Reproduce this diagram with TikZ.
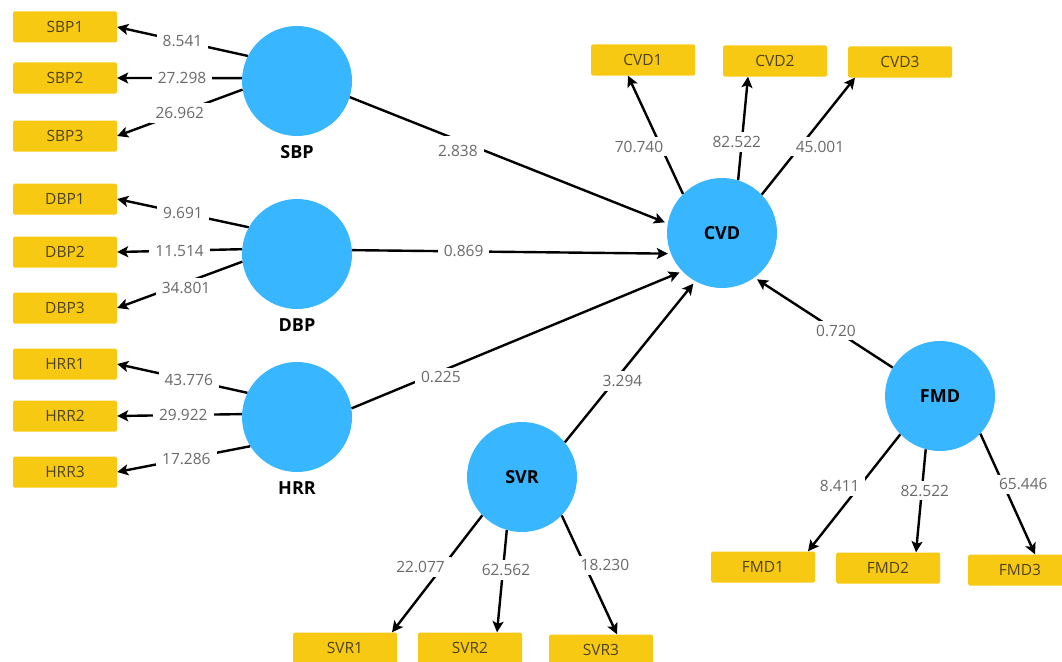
\documentclass[tikz,border=0pt]{standalone}
\usepackage{fontspec}
\setmainfont{Open Sans}
\usetikzlibrary{arrows.meta}
\definecolor{boxyellow}{HTML}{F8C912}
\definecolor{boxtext}{HTML}{4E4320}
\definecolor{circblue}{HTML}{38B6FF}
\definecolor{lblgray}{HTML}{6A6A6A}
\tikzset{
  ind/.style={rectangle, fill=boxyellow, minimum width=104pt, minimum height=31pt, rounded corners=1.5pt, inner sep=0pt, text=boxtext, font=\fontsize{15.5}{16}\selectfont},
  lat/.style={circle, fill=circblue, minimum size=110pt, inner sep=0pt, font=\fontsize{18}{20}\selectfont\bfseries, text=black},
  lbold/.style={font=\fontsize{18}{20}\selectfont\bfseries, text=black},
  lbl/.style={fill=white, text=lblgray, font=\fontsize{15.5}{16}\selectfont, inner xsep=6pt, inner ysep=4pt},
  arr/.style={draw=black, line width=2.4pt, -{Stealth[length=11pt,width=11pt,inset=2.5pt]}},
  arrin/.style={arr, shorten >=3pt}
}
\begin{document}
\begin{tikzpicture}[x=1pt,y=-1pt]
\useasboundingbox (0,0) rectangle (1062,661);
% indicator boxes
\node[ind] (sbp1) at (65,27) {SBP1};
\node[ind] (sbp2) at (65,78) {SBP2};
\node[ind] (sbp3) at (65,136) {SBP3};
\node[ind] (dbp1) at (65,199) {DBP1};
\node[ind] (dbp2) at (65,252) {DBP2};
\node[ind] (dbp3) at (65,308) {DBP3};
\node[ind] (hrr1) at (65,364) {HRR1};
\node[ind] (hrr2) at (65,416) {HRR2};
\node[ind] (hrr3) at (65,472) {HRR3};
\node[ind] (cvd1) at (643,60) {CVD1};
\node[ind] (cvd2) at (775,61) {CVD2};
\node[ind] (cvd3) at (900,62) {CVD3};
\node[ind] (fmd1) at (763,567) {FMD1};
\node[ind] (fmd2) at (888,568) {FMD2};
\node[ind] (fmd3) at (1020,570) {FMD3};
\node[ind] (svr1) at (345,648) {SVR1};
\node[ind] (svr2) at (470,648) {SVR2};
\node[ind] (svr3) at (601,650) {SVR3};
% latent variables
\node[lat, label={[lbold, label distance=6pt]below:SBP}] (sbp) at (297,81) {};
\node[lat, label={[lbold, label distance=6pt]below:DBP}] (dbp) at (297,254) {};
\node[lat, label={[lbold, label distance=6pt]below:HRR}] (hrr) at (297,417) {};
\node[lat] (cvd) at (722,233) {CVD};
\node[lat] (fmd) at (940,396) {FMD};
\node[lat] (svr) at (522,477) {SVR};
% outer loadings, left
\draw[arr] (sbp.153) -- (sbp1.east) node[lbl, pos=0.5] {8.541};
\draw[arr] (sbp.177) -- (sbp2.east) node[lbl, pos=0.48] {27.298};
\draw[arr] (sbp.189) -- (sbp3.east) node[lbl, pos=0.5] {26.962};
\draw[arr] (dbp.151) -- (dbp1.east) node[lbl, pos=0.5] {9.691};
\draw[arr] (dbp.175) -- (dbp2.east) node[lbl, pos=0.5] {11.514};
\draw[arr] (dbp.188) -- (dbp3.east) node[lbl, pos=0.45, yshift=-5pt] {34.801};
\draw[arr] (hrr.154) -- (hrr1.east) node[lbl, pos=0.45] {43.776};
\draw[arr] (hrr.177) -- (hrr2.east) node[lbl, pos=0.47] {29.922};
\draw[arr] (hrr.212) -- (hrr3.east) node[lbl, pos=0.48] {17.286};
% CVD loadings
\draw[arr] (cvd.135) -- ([xshift=-15pt]cvd1.south) node[lbl, pos=0.4, xshift=-22pt] {70.740};
\draw[arr] (cvd.73) -- ([xshift=-27pt]cvd2.south) node[lbl, pos=0.37, xshift=-5pt] {82.522};
\draw[arr] (cvd.44) -- ([xshift=-45pt]cvd3.south) node[lbl, pos=0.41, xshift=20pt] {45.001};
% FMD loadings
\draw[arr] (fmd.224) -- ([xshift=45pt]fmd1.north) node[lbl, pos=0.44, xshift=-20pt] {8.411};
\draw[arr] (fmd.255) -- ([xshift=28pt]fmd2.north) node[lbl, pos=0.4, xshift=3pt] {82.522};
\draw[arr] (fmd.317) -- ([xshift=15pt]fmd3.north) node[lbl, pos=0.42, xshift=20pt] {65.446};
% SVR loadings
\draw[arr] (svr.224) -- ([xshift=47pt]svr1.north) node[lbl, pos=0.44, xshift=-22pt] {22.077};
\draw[arr] (svr.254) -- ([xshift=27pt]svr2.north) node[lbl, pos=0.39, xshift=3pt] {62.562};
\draw[arr] (svr.316) -- ([xshift=16pt]svr3.north) node[lbl, pos=0.42, xshift=20pt] {18.230};
% structural paths
\draw[arrin] (sbp.-17) -- (cvd.170) node[lbl, pos=0.34, yshift=-11pt, inner ysep=9pt] {2.838};
\draw[arrin] (dbp.4) -- (cvd.202) node[lbl, pos=0.35] {0.869};
\draw[arrin] (hrr.9) -- (cvd.224) node[lbl, pos=0.27, yshift=-6pt] {0.225};
\draw[arrin] (svr.39) -- (cvd.241) node[lbl, pos=0.38, xshift=8pt] {3.294};
\draw[arrin] (fmd.149) -- (cvd.306) node[lbl, pos=0.41] {0.720};
\end{tikzpicture}
\end{document}
